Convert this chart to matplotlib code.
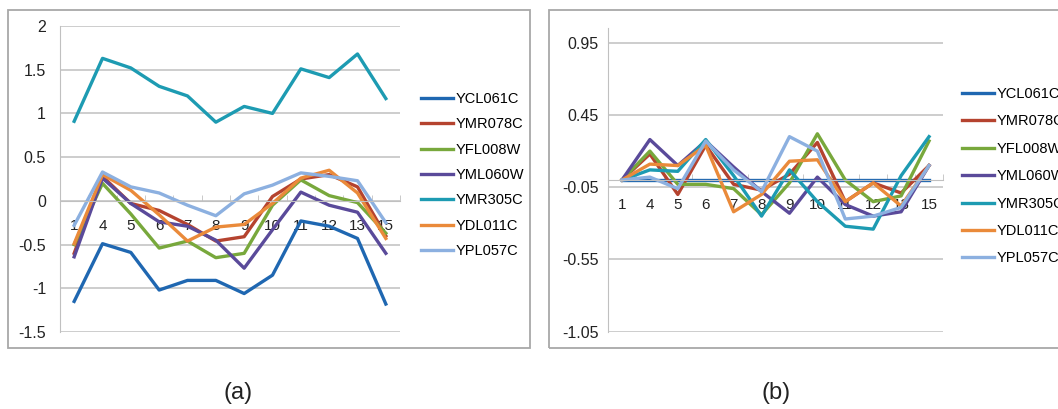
import numpy as np
import matplotlib as mpl
mpl.use("Agg")
from matplotlib import pyplot as plt
from matplotlib.patches import Rectangle

# Categories (time points) shared by both panels
cats = ['1', '4', '5', '6', '7', '8', '9', '10', '11', '12', '13', '15']
genes = ['YCL061C', 'YMR078C', 'YFL008W', 'YML060W', 'YMR305C', 'YDL011C', 'YPL057C']
colors = ['#1f67b1', '#b5432f', '#78a83c', '#5a4a9a', '#1d9bb2', '#ea8a3a', '#8cb0e0']

# Panel (a) values
a_YCL061C = [-1.15, -0.49, -0.59, -1.02, -0.91, -0.91, -1.06, -0.85, -0.23, -0.29, -0.43, -1.18]
a_YMR078C = [-0.60, 0.28, -0.03, -0.11, -0.27, -0.46, -0.41, 0.05, 0.25, 0.30, 0.16, -0.40]
a_YFL008W = [-0.50, 0.20, -0.15, -0.54, -0.46, -0.65, -0.60, -0.05, 0.24, 0.06, -0.02, -0.37]
a_YML060W = [-0.64, 0.26, -0.03, -0.24, -0.29, -0.45, -0.77, -0.33, 0.10, -0.05, -0.13, -0.60]
a_YMR305C = [0.91, 1.63, 1.52, 1.31, 1.20, 0.90, 1.08, 1.00, 1.51, 1.41, 1.68, 1.17]
a_YDL011C = [-0.49, 0.30, 0.12, -0.16, -0.46, -0.30, -0.27, -0.03, 0.26, 0.35, 0.09, -0.43]
a_YPL057C = [-0.28, 0.33, 0.16, 0.09, -0.05, -0.17, 0.08, 0.18, 0.32, 0.28, 0.23, -0.25]

# Panel (b) values
b_YCL061C = [0.00, 0.00, 0.00, 0.00, 0.00, 0.00, 0.00, 0.00, 0.00, 0.00, 0.00, 0.00]
b_YMR078C = [0.00, 0.18, -0.10, 0.24, -0.03, -0.07, 0.04, 0.26, -0.15, -0.02, -0.09, 0.10]
b_YFL008W = [0.00, 0.20, -0.03, -0.03, -0.06, -0.24, -0.02, 0.32, 0.00, -0.15, -0.11, 0.27]
b_YML060W = [0.00, 0.28, 0.10, 0.27, 0.09, -0.08, -0.23, 0.02, -0.17, -0.25, -0.22, 0.10]
b_YMR305C = [0.00, 0.07, 0.06, 0.28, 0.03, -0.25, 0.07, -0.15, -0.32, -0.34, 0.03, 0.30]
b_YDL011C = [0.00, 0.11, 0.10, 0.24, -0.22, -0.10, 0.13, 0.14, -0.15, -0.02, -0.18, 0.10]
b_YPL057C = [0.00, 0.02, -0.06, 0.27, 0.07, -0.08, 0.30, 0.20, -0.27, -0.25, -0.19, 0.10]

a_series = [a_YCL061C, a_YMR078C, a_YFL008W, a_YML060W, a_YMR305C, a_YDL011C, a_YPL057C]
b_series = [b_YCL061C, b_YMR078C, b_YFL008W, b_YML060W, b_YMR305C, b_YDL011C, b_YPL057C]

a_yticks = [-1.5, -1, -0.5, 0, 0.5, 1, 1.5, 2]
a_ylabels = ['-1.5', '-1', '-0.5', '0', '0.5', '1', '1.5', '2']
b_yticks = [-1.05, -0.55, -0.05, 0.45, 0.95]
b_ylabels = ['-1.05', '-0.55', '-0.05', '0.45', '0.95']

plt.rcParams['font.family'] = ['Liberation Sans', 'DejaVu Sans']
plt.rcParams['axes.unicode_minus'] = False

W, H = 1058, 409
fig = plt.figure(figsize=(W/100., H/100.), dpi=100)
grid_c = '#c0c0c0'


def px_axes(x0, y0, x1, y1):
    return fig.add_axes([x0/W, 1 - y1/H, (x1 - x0)/W, (y1 - y0)/H])


def frame(x0, y0, x1, y1):
    fig.patches.append(Rectangle((x0/W, 1 - y1/H), (x1 - x0)/W, (y1 - y0)/H,
                                 transform=fig.transFigure, fill=False,
                                 edgecolor='#a8a8a8', lw=1.3))


def draw_panel(ax, series, yticks, ylabels, ylim, ypad):
    for vals, c, g in zip(series, colors, genes):
        ax.plot(cats, vals, color=c, lw=2.4, label=g)
    ax.set_xlim(-0.5, len(cats) - 0.5)
    ax.set_ylim(*ylim)
    ax.set_yticks(yticks)
    ax.set_yticklabels(ylabels)
    ax.yaxis.grid(True, color=grid_c, lw=1.1)
    ax.set_axisbelow(True)
    for s in ['top', 'right']:
        ax.spines[s].set_visible(False)
    ax.spines['left'].set_color(grid_c)
    ax.spines['bottom'].set_color(grid_c)
    ax.spines['bottom'].set_position(('data', 0))
    ax.set_xticks(np.arange(-0.5, len(cats), 1), minor=True)
    ax.tick_params(axis='x', which='major', length=0, pad=13, labelsize=11, labelcolor='#222222')
    ax.tick_params(axis='x', which='minor', length=4, direction='in', color=grid_c)
    ax.tick_params(axis='y', length=0, pad=ypad, labelsize=11.5, labelcolor='#222222')
    ax.patch.set_alpha(0)


# Panel (a)
frame(8, 10, 530, 348)
ax_a = px_axes(60, 26, 400, 332)
draw_panel(ax_a, a_series, a_yticks, a_ylabels, (-1.5, 2), 10)
ax_a.legend(loc='upper left', bbox_to_anchor=(421/W, 1 - 92/H), bbox_transform=fig.transFigure,
            frameon=False, fontsize=10.5, handlelength=2.2, handletextpad=0.2,
            labelspacing=0.78, borderpad=0, borderaxespad=0)

# Panel (b)
frame(549, 10, 1075, 348)
ax_b = px_axes(608, 28.3, 943, 331.7)
draw_panel(ax_b, b_series, b_yticks, b_ylabels, (-1.05, 1.05), 7)
ax_b.legend(loc='upper left', bbox_to_anchor=(962/W, 1 - 87/H), bbox_transform=fig.transFigure,
            frameon=False, fontsize=10.5, handlelength=2.2, handletextpad=0.2,
            labelspacing=0.92, borderpad=0, borderaxespad=0)

fig.text(238/W, 1 - 393/H, '(a)', ha='center', va='center', fontsize=17, color='#222222')
fig.text(776/W, 1 - 393/H, '(b)', ha='center', va='center', fontsize=17, color='#222222')

fig.savefig('out.png', dpi=100)
